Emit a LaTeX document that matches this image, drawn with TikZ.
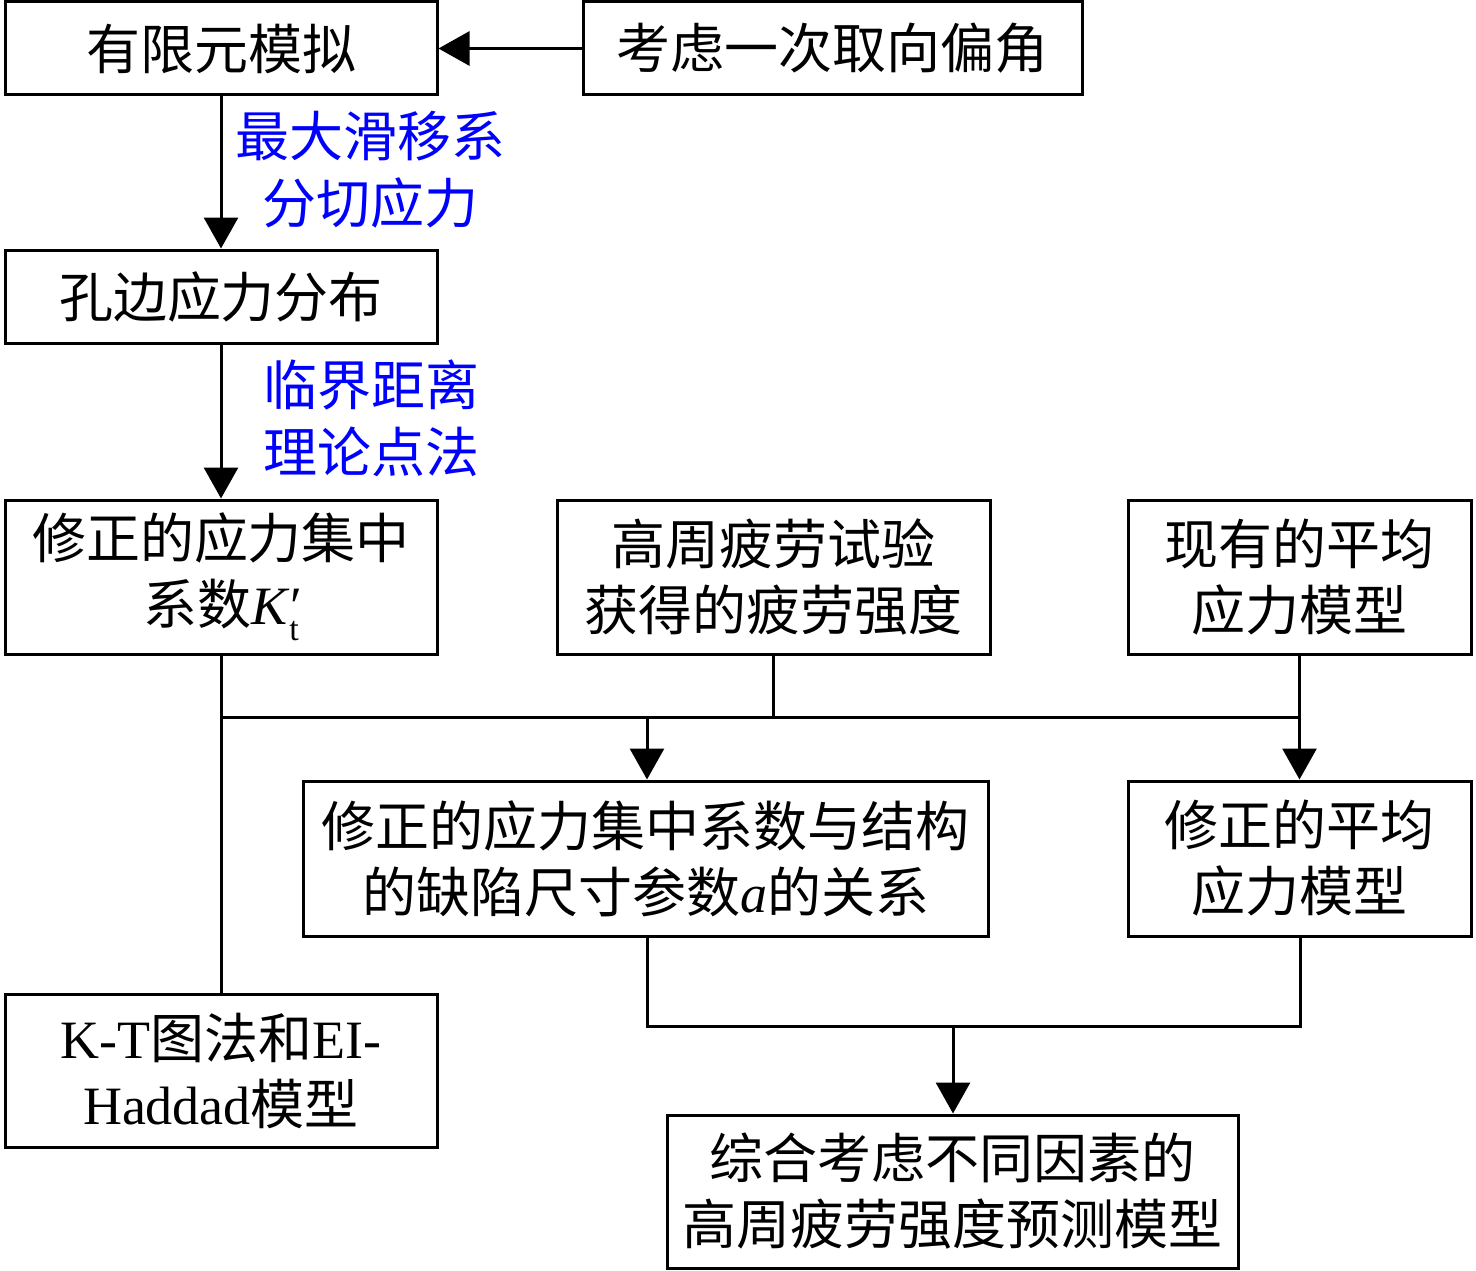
\documentclass[tikz,border=0pt]{standalone}
\usepackage{fontspec}
\setmainfont{Liberation Serif}
\newfontfamily\cjk{Noto Sans CJK SC}
\usetikzlibrary{arrows.meta}
\begin{document}
\begin{tikzpicture}[x=1pt,y=-1pt,
  box/.style={draw,line width=3pt,inner sep=0pt,align=center,
    font=\fontsize{54}{66}\selectfont},
  lbl/.style={text=blue,align=center,inner sep=0pt,font=\fontsize{54}{67}\selectfont\cjk},
  conn/.style={line width=3pt},
  arr/.style={line width=3pt,-{Triangle[length=31pt,width=34pt]}}]
\useasboundingbox (0,0) rectangle (1476,1271);
\node[box,minimum width=432pt,minimum height=93pt] (b1) at (221,48.5) {\cjk 有限元模拟};
\node[box,minimum width=499pt,minimum height=93pt] (b2) at (832.5,48.5) {\cjk 考虑一次取向偏角};
\node[box,minimum width=432pt,minimum height=93pt] (b3) at (221,296.5) {\cjk 孔边应力分布};
\node[box,minimum width=432pt,minimum height=154pt] (b4) at (221,577) {{\cjk 修正的应力集中}\\{\cjk 系数}\textit{K}\rlap{\kern1pt′}\raisebox{-0.3em}{\fontsize{34}{34}\selectfont t}};
\node[box,minimum width=433pt,minimum height=154pt] (b5) at (773.5,577) {{\cjk 高周疲劳试验}\\{\cjk 获得的疲劳强度}};
\node[box,minimum width=343pt,minimum height=154pt] (b6) at (1299.5,577) {{\cjk 现有的平均}\\{\cjk 应力模型}};
\node[box,minimum width=685pt,minimum height=155pt] (b7) at (645.5,858.5) {{\cjk 修正的应力集中系数与结构}\\{\cjk 的缺陷尺寸参数}\textit{a}{\cjk 的关系}};
\node[box,minimum width=343pt,minimum height=155pt] (b8) at (1299.5,858.5) {{\cjk 修正的平均}\\{\cjk 应力模型}};
\node[box,minimum width=432pt,minimum height=153pt] (b9) at (221,1070.5) {K-T{\cjk 图法和}EI-\\Haddad{\cjk 模型}};
\node[box,minimum width=571pt,minimum height=153pt] (b10) at (952.5,1191.5) {{\cjk 综合考虑不同因素的}\\{\cjk 高周疲劳强度预测模型}};
\node[lbl] (l1) at (370,170) {最大滑移系\\分切应力};
\node[lbl] (l2) at (371,418) {临界距离\\理论点法};
\coordinate (j1) at (221,717);
\coordinate (j2) at (1300,717);
\coordinate (k1) at (647,1026);
\coordinate (k2) at (1300,1026);
\draw[arr] (b2.west) -- (b1.east);
\draw[arr] (b1.south) -- (b3.north);
\draw[arr] (b3.south) -- (b4.north);
\draw[conn] (b4.south) -- (b9.north);
\draw[conn] (j1) -- (j2);
\draw[conn] (b5.south) -- (b5.south |- j1);
\draw[arr] (b6.south) -- (b8.north);
\draw[arr] (647,717) -- (b7.north -| 647,0);
\draw[conn] (b7.south -| k1) -- (k1) -- (k2) -- (b8.south -| k2);
\draw[arr] (953,1026) -- (b10.north -| 953,0);
\end{tikzpicture}
\end{document}
